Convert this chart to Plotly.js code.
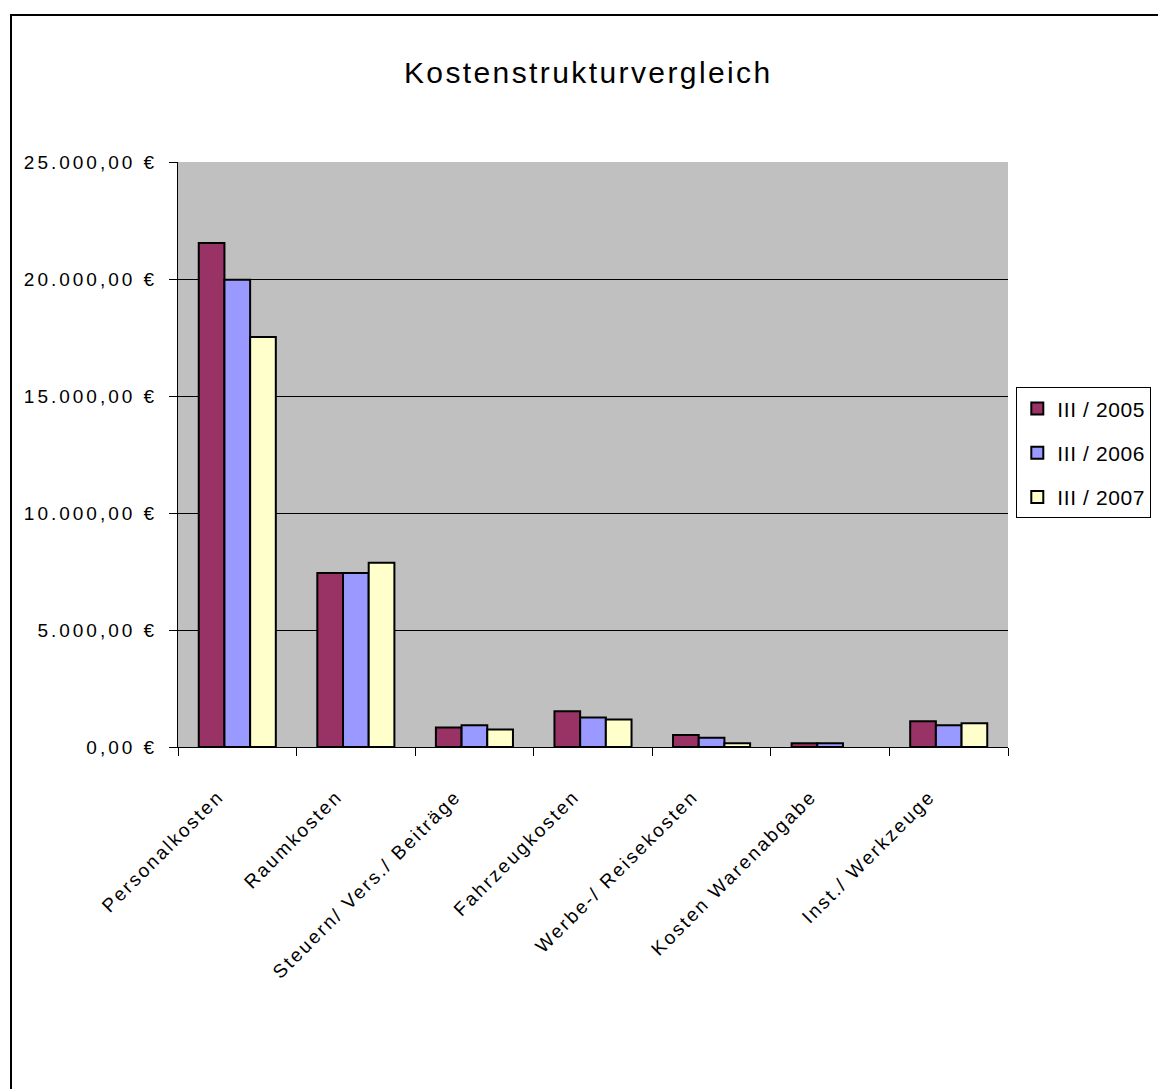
<!DOCTYPE html>
<html>
<head>
<meta charset="utf-8">
<script src="https://cdn.plot.ly/plotly-3.0.1.min.js"></script>
<style>
  html, body { margin: 0; padding: 0; background: #fff; }
  #frame { position: absolute; left: 10px; top: 14px; width: 1160px; height: 1090px;
           border-left: 2px solid #000; border-top: 2px solid #000; box-sizing: border-box; }
  #chart { position: absolute; left: 0; top: 0; width: 1158px; height: 1089px; }
  #chart .gtitle { letter-spacing: 2.4px; }
  #chart .ytick text { letter-spacing: 3px; }
  #chart .xtick text { letter-spacing: 2.3px; }
  .legendtext { letter-spacing: 0.6px; }
</style>
</head>
<body>
<div id="frame"></div>
<div id="chart"></div>
<script>
const categories = ["Personalkosten", "Raumkosten", "Steuern/ Vers./ Beiträge", "Fahrzeugkosten",
                    "Werbe-/ Reisekosten", "Kosten Warenabgabe", "Inst./ Werkzeuge"];
const seriesNames = ["III / 2005", "III / 2006", "III / 2007"];
const values2005 = [21540, 7440, 830, 1530, 510, 160, 1100];
const values2006 = [19970, 7440, 930, 1260, 400, 160, 930];
const values2007 = [17520, 7870, 745, 1170, 160, null, 1010];
const yTickVals = [0, 5000, 10000, 15000, 20000, 25000];
const yTickText = ["0,00 €", "5.000,00 €", "10.000,00 €", "15.000,00 €", "20.000,00 €", "25.000,00 €"];
const colors = ["#993366", "#9999FF", "#FFFFCC"];

const allValues = [values2005, values2006, values2007];
const traces = allValues.map((v, i) => ({
  type: "bar",
  name: seriesNames[i],
  legendgroup: "g" + i,
  x: categories,
  y: v,
  marker: { color: colors[i], line: { color: "#000", width: 2 } },
  hoverinfo: "none"
}));

const font = "Liberation Sans, Arial, sans-serif";
const layout = {
  width: 1158, height: 1089,
  paper_bgcolor: "rgba(0,0,0,0)",
  plot_bgcolor: "#C0C0C0",
  margin: { l: 178, r: 150, t: 162, b: 342, autoexpand: false },
  barmode: "group",
  bargap: 0.35,
  bargroupgap: 0,
  showlegend: true,
  title: { text: "Kostenstrukturvergleich", font: { family: font, size: 30, color: "#000" },
           x: 0.508, xanchor: "center", y: 0.933, yanchor: "middle" },
  xaxis: {
    type: "category",
    tickangle: -45,
    tickson: "boundaries",
    ticks: "outside", ticklen: 8, tickcolor: "#000", tickwidth: 1,
    ticklabelstandoff: 30, ticklabelshift: -19,
    showline: true, linecolor: "#000", linewidth: 1,
    showgrid: false,
    tickfont: { family: font, size: 19, color: "#000" }
  },
  yaxis: {
    range: [0, 25000],
    tickvals: yTickVals, ticktext: yTickText,
    ticks: "outside", ticklen: 8, tickcolor: "#000", tickwidth: 1,
    ticklabelstandoff: 8,
    showline: true, linecolor: "#000", linewidth: 1,
    showgrid: true, gridcolor: "#000", gridwidth: 1,
    zeroline: false,
    tickfont: { family: font, size: 19, color: "#000" }
  },
  legend: {
    x: 1.01, xanchor: "left", y: 0.503, yanchor: "middle",
    bordercolor: "#000", borderwidth: 1, bgcolor: "#fff",
    font: { family: font, size: 21, color: "#000" },
    traceorder: "grouped",
    tracegroupgap: 14,
    itemwidth: 30
  }
};

Plotly.newPlot("chart", traces, layout, { staticPlot: true });
</script>
</body>
</html>
